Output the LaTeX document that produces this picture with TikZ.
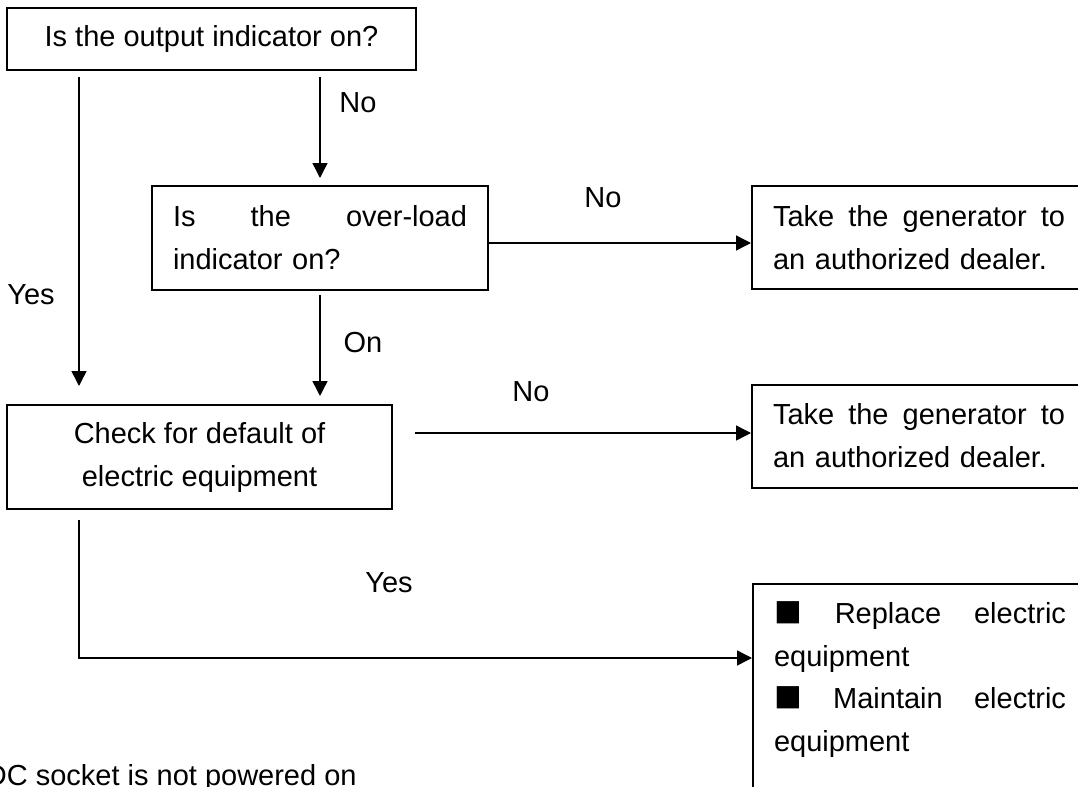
\documentclass[tikz,border=0pt]{standalone}
\usepackage{fontspec}
\setmainfont{Liberation Sans}
\usetikzlibrary{arrows.meta}

\begin{document}
\begin{tikzpicture}[x=0.5pt,y=-0.5pt,
  every node/.style={font=\fontsize{14.5}{21.5}\selectfont},
  mybox/.style={draw,line width=1pt,inner xsep=10.5pt,inner ysep=0pt},
  myarrow/.style={line width=0.7pt,-{Triangle[length=7.5pt,width=7.5pt]}},
  mylabel/.style={inner sep=0pt}]
\newcommand{\mysq}{\raisebox{-1.5pt}{\fontsize{23}{21.5}\selectfont ■}}
\useasboundingbox (0,0) rectangle (1078,787);
\node [mybox,minimum width=204.5pt,minimum height=31pt] (output) at (211.5,39) {Is the output indicator on?};
\node [mybox,text width=147pt,align=left,minimum height=52pt] (overload) at (320,238) {Is\hfill the\hfill over-load\\indicator on?};
\node [mybox,minimum width=192.5pt,minimum height=52pt,align=center] (check) at (199.5,457) {Check for default of\\electric equipment};
  \foreach \nm/\ypos in {dealerA/237.5,dealerB/436}
  {  \node [mybox,text width=146pt,align=left,minimum height=51.5pt] (\nm) at (919,\ypos) {Take\hfill the\hfill generator\hfill to\\an authorized dealer.};}
\node [mybox,text width=146pt,align=left,anchor=north west,inner ysep=9pt] (fix) at (752,583) {\mysq\hfill Replace\hfill electric\\equipment\\[-0.5pt]\mysq\hfill Maintain\hfill electric\\equipment\\[30pt]\mbox{}};
\coordinate (yesend) at (79,386);
\coordinate (nostart) at (415,433);
\coordinate (yesturn) at (79,658);
\draw [myarrow] ([yshift=-3pt]yesend |- output.south) -- (yesend);
\draw [myarrow] ([yshift=-3pt]overload.north |- output.south) -- ([yshift=3.5pt]overload.north);
\draw [myarrow] ([yshift=-2pt]overload.south) -- ([yshift=4pt]overload.south |- check.north);
\draw [myarrow] ([yshift=-2.5pt]overload.east) -- ([yshift=-2.5pt]overload.east -| dealerA.west);
\draw [myarrow] (nostart) -- (nostart -| dealerB.west);
\draw [myarrow] ([yshift=-5pt]check.south -| yesturn) -- (yesturn) -- (yesturn -| fix.west);
  \foreach \txt/\px/\py in {No/358/103,Yes/31/295,On/363/343,No/603/198,No/531/392,Yes/389/583}
  {  \node [mylabel] (lbl\px) at (\px,\py) {\txt};}
\node [mylabel,anchor=base east] (socket) at (357,785) {DC socket is not powered on};
\end{tikzpicture}
\end{document}
